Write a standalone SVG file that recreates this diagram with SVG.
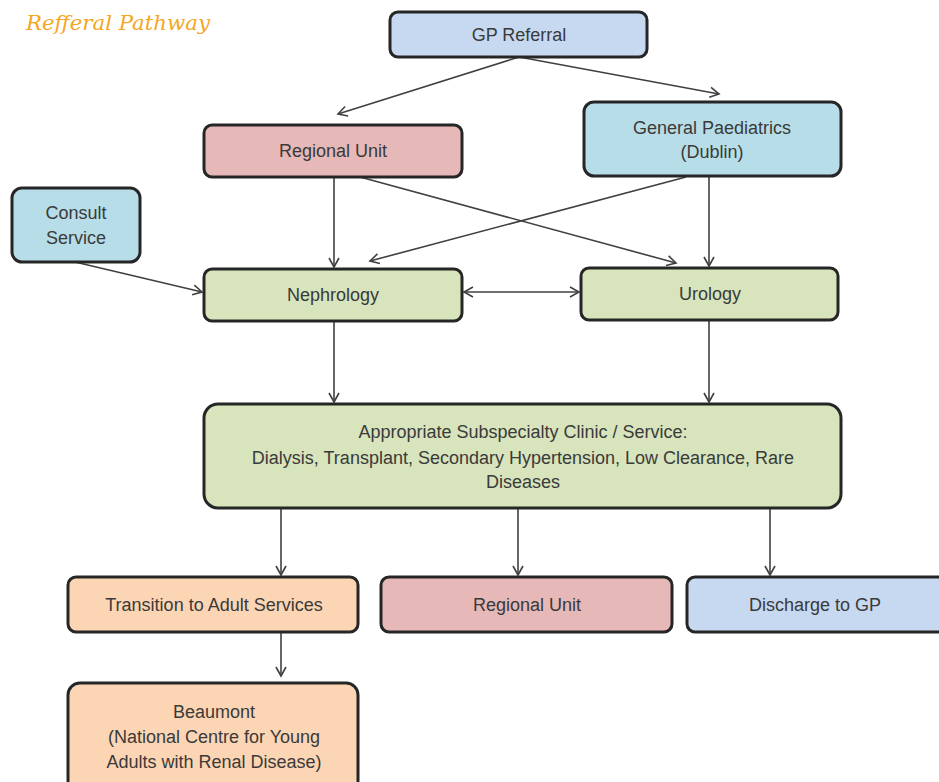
<svg xmlns="http://www.w3.org/2000/svg" width="939" height="782" viewBox="0 0 939 782">
<defs>
<marker id="arr" markerWidth="12" markerHeight="12" refX="10" refY="6" orient="auto" markerUnits="userSpaceOnUse">
<path d="M1,1 L10,6 L1,11" fill="none" stroke="#404040" stroke-width="1.6"/>
</marker>
<marker id="arrs" markerWidth="12" markerHeight="12" refX="2" refY="6" orient="auto" markerUnits="userSpaceOnUse">
<path d="M11,1 L2,6 L11,11" fill="none" stroke="#404040" stroke-width="1.6"/>
</marker>
<style>
.box{stroke:#262626;stroke-width:3}
.blue{fill:#c6d9f0}
.teal{fill:#b7dde8}
.pink{fill:#e6b8b7}
.green{fill:#d7e4bc}
.peach{fill:#fcd5b4}
.t{font-family:"Liberation Sans",Arial,sans-serif;font-size:18px;fill:#3a3a3a;text-anchor:middle}
.c{stroke:#404040;stroke-width:1.6;fill:none;marker-end:url(#arr)}
.title{font-family:"DejaVu Serif","Liberation Serif",serif;font-style:italic;font-size:20px;fill:#f5a623}
</style>
</defs>
<rect width="939" height="782" fill="#ffffff"/>
<text class="title" x="26" y="30" textLength="184" lengthAdjust="spacingAndGlyphs">Refferal Pathway</text>
<g id="connectors">
<line class="c" x1="519" y1="57" x2="338" y2="114"/>
<line class="c" x1="519" y1="57" x2="719" y2="94"/>
<line class="c" x1="334" y1="177" x2="334" y2="267"/>
<line class="c" x1="360" y1="177" x2="676" y2="263"/>
<line class="c" x1="686" y1="177" x2="370" y2="261"/>
<line class="c" x1="709" y1="177" x2="709" y2="266"/>
<line class="c" x1="75" y1="262" x2="202" y2="292"/>
<line class="c" x1="464" y1="292" x2="579" y2="292" marker-start="url(#arrs)"/>
<line class="c" x1="334" y1="321" x2="334" y2="402"/>
<line class="c" x1="709" y1="320" x2="709" y2="402"/>
<line class="c" x1="281" y1="508" x2="281" y2="575"/>
<line class="c" x1="518" y1="508" x2="518" y2="575"/>
<line class="c" x1="770" y1="508" x2="770" y2="575"/>
<line class="c" x1="281" y1="632" x2="281" y2="676"/>
</g>
<g id="gp-referral"><rect class="box blue" x="390" y="12" width="257" height="45" rx="8"/><text class="t" x="519" y="41">GP Referral</text></g>
<g id="regional-unit-top"><rect class="box pink" x="204" y="125" width="258" height="52" rx="8"/><text class="t" x="333" y="157">Regional Unit</text></g>
<g id="general-paediatrics"><rect class="box teal" x="584" y="102" width="257" height="74" rx="10"/><text class="t" x="712" y="134">General Paediatrics</text><text class="t" x="712" y="158">(Dublin)</text></g>
<g id="consult-service"><rect class="box teal" x="12" y="188" width="128" height="74" rx="10"/><text class="t" x="76" y="219">Consult</text><text class="t" x="76" y="244">Service</text></g>
<g id="nephrology"><rect class="box green" x="204" y="269" width="258" height="52" rx="8"/><text class="t" x="333" y="301">Nephrology</text></g>
<g id="urology"><rect class="box green" x="581" y="268" width="257" height="52" rx="8"/><text class="t" x="710" y="300">Urology</text></g>
<g id="subspecialty"><rect class="box green" x="204" y="404" width="637" height="104" rx="14"/><text class="t" x="523" y="438">Appropriate Subspecialty Clinic / Service:</text><text class="t" x="523" y="464">Dialysis, Transplant, Secondary Hypertension, Low Clearance, Rare</text><text class="t" x="523" y="488">Diseases</text></g>
<g id="transition"><rect class="box peach" x="68" y="577" width="290" height="55" rx="8"/><text class="t" x="214" y="611">Transition to Adult Services</text></g>
<g id="regional-unit-bottom"><rect class="box pink" x="381" y="577" width="291" height="55" rx="8"/><text class="t" x="527" y="611">Regional Unit</text></g>
<g id="discharge"><rect class="box blue" x="687" y="577" width="270" height="55" rx="8"/><text class="t" x="815" y="611">Discharge to GP</text></g>
<g id="beaumont"><rect class="box peach" x="68" y="683" width="290" height="110" rx="12"/><text class="t" x="214" y="718">Beaumont</text><text class="t" x="214" y="743">(National Centre for Young</text><text class="t" x="214" y="768">Adults with Renal Disease)</text></g>
</svg>
